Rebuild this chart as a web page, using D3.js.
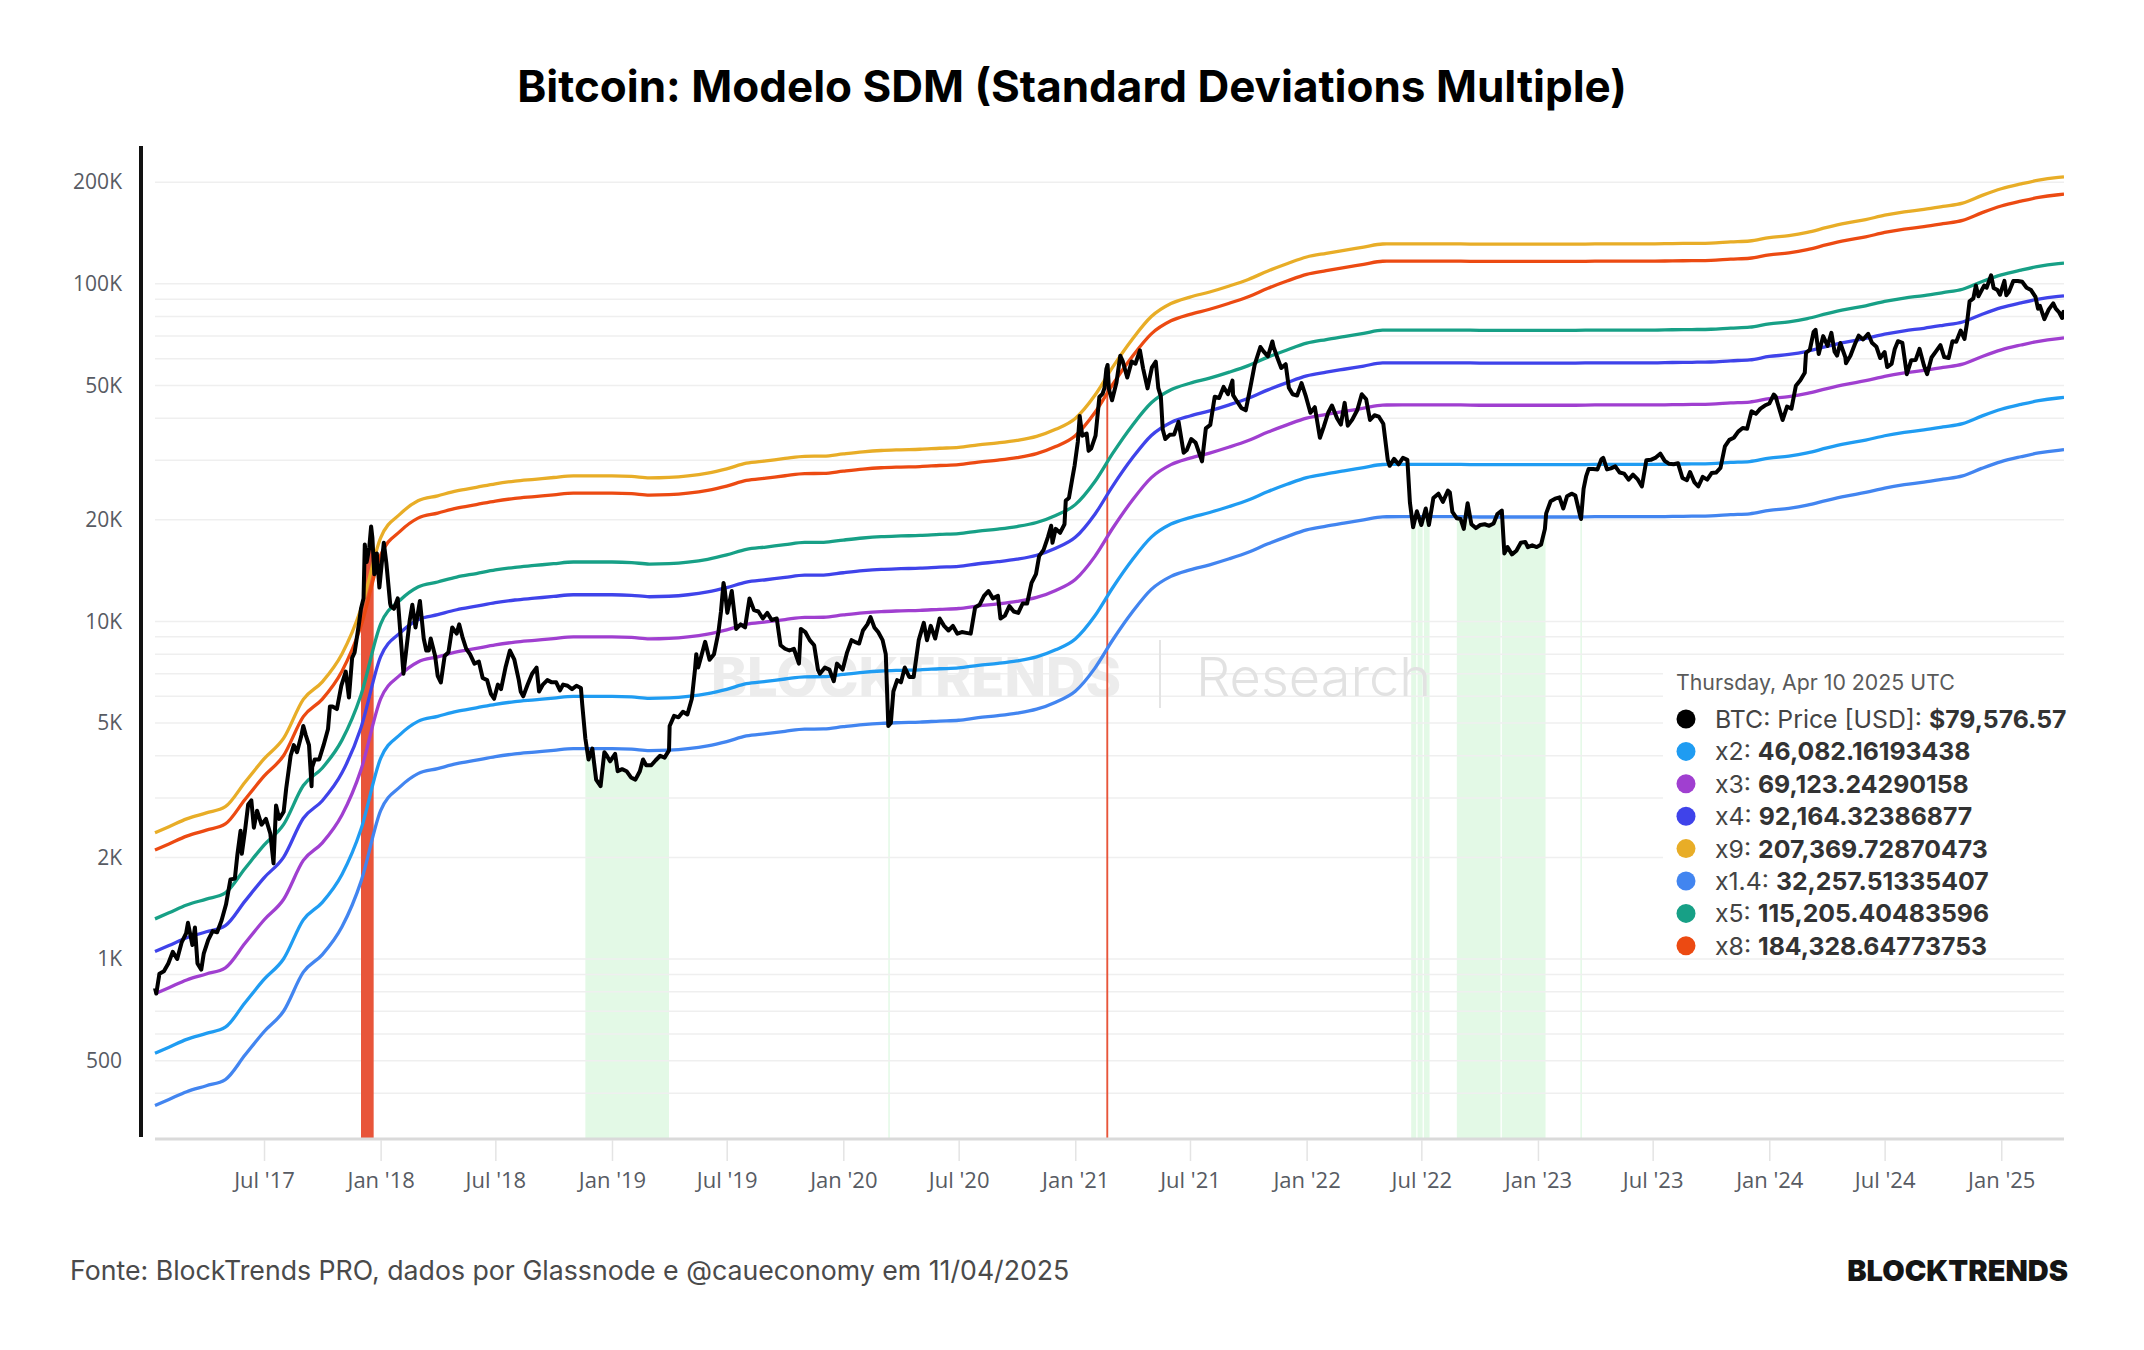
<!DOCTYPE html>
<html>
<head>
<meta charset="utf-8">
<script src="https://cdn.jsdelivr.net/npm/d3@7"></script>
<style>
  html, body { margin: 0; padding: 0; background: #ffffff; }
  #chart { width: 2144px; height: 1350px; }
  text { font-family: Inter, "Open Sans", sans-serif; }
  .axis text { font-family: "Open Sans", sans-serif; fill: #575b63; }
  .grid_line { stroke: #efefef; stroke-width: 1.5; }
  .band_line { fill: none; stroke-width: 3.3; stroke-linejoin: round; }
  .price_line { fill: none; stroke: #000; stroke-width: 4; stroke-linejoin: round; }
</style>
</head>
<body>
<div id="chart"></div>
<script>
// ---- data ----

var titleText = "Bitcoin: Modelo SDM (Standard Deviations Multiple)"
var sourceText = "Fonte: BlockTrends PRO, dados por Glassnode e @caueconomy em 11/04/2025"
var brandText = "BLOCKTRENDS"

var yTickValues = [500, 1000, 2000, 5000, 10000, 20000, 50000, 100000, 200000]
var yGridValues = [400, 500, 600, 700, 800, 900, 1000, 2000, 3000, 4000, 5000, 6000, 7000, 8000, 9000,
  10000, 20000, 30000, 40000, 50000, 60000, 70000, 80000, 90000, 100000, 200000]
var xTickDates = ["2017-07-01", "2018-01-01", "2018-07-01", "2019-01-01", "2019-07-01", "2020-01-01",
  "2020-07-01", "2021-01-01", "2021-07-01", "2022-01-01", "2022-07-01", "2023-01-01", "2023-07-01",
  "2024-01-01", "2024-07-01", "2025-01-01"]

// bands are multiples of one base curve (x1)
var bandNames = ["x1.4", "x2", "x3", "x4", "x5", "x8", "x9"]
var bandMultiples = [1.4, 2, 3, 4, 5, 8, 9]

var bandDates = [
  "2017-01-10", "2017-02-01", "2017-03-01", "2017-04-01", "2017-05-01", "2017-06-01", "2017-07-01", "2017-08-01", "2017-09-01", "2017-10-01", "2017-11-01", "2017-12-01",
  "2018-01-01", "2018-02-01", "2018-03-01", "2018-04-01", "2018-05-01", "2018-06-01", "2018-07-01", "2018-08-01", "2018-09-01", "2018-10-01", "2018-11-01", "2018-12-01",
  "2019-01-01", "2019-02-01", "2019-03-01", "2019-04-01", "2019-05-01", "2019-06-01", "2019-07-01", "2019-08-01", "2019-09-01", "2019-10-01", "2019-11-01", "2019-12-01",
  "2020-01-01", "2020-02-01", "2020-03-01", "2020-04-01", "2020-05-01", "2020-06-01", "2020-07-01", "2020-08-01", "2020-09-01", "2020-10-01", "2020-11-01", "2020-12-01",
  "2021-01-01", "2021-02-01", "2021-03-01", "2021-04-01", "2021-05-01", "2021-06-01", "2021-07-01", "2021-08-01", "2021-09-01", "2021-10-01", "2021-11-01", "2021-12-01",
  "2022-01-01", "2022-02-01", "2022-03-01", "2022-04-01", "2022-05-01", "2022-06-01", "2022-07-01", "2022-08-01", "2022-09-01", "2022-10-01", "2022-11-01", "2022-12-01",
  "2023-01-01", "2023-02-01", "2023-03-01", "2023-04-01", "2023-05-01", "2023-06-01", "2023-07-01", "2023-08-01", "2023-09-01", "2023-10-01", "2023-11-01", "2023-12-01",
  "2024-01-01", "2024-02-01", "2024-03-01", "2024-04-01", "2024-05-01", "2024-06-01", "2024-07-01", "2024-08-01", "2024-09-01", "2024-10-01", "2024-11-01", "2024-12-01",
  "2025-01-01", "2025-02-01", "2025-03-01", "2025-04-01", "2025-04-10"
]
var bandBase = [
  263, 274, 289, 301, 314, 371, 435, 501, 653, 736, 890, 1211,
  1965, 2314, 2529, 2617, 2707, 2773, 2841, 2893, 2929, 2965, 2999, 2999,
  2999, 2988, 2958, 2968, 2999, 3056, 3147, 3270, 3322, 3376, 3427, 3430,
  3484, 3533, 3565, 3582, 3595, 3620, 3640, 3705, 3756, 3821, 3926, 4119,
  4436, 5195, 6292, 7615, 8887, 9712, 10150, 10510, 10950, 11450, 12130, 12740,
  13340, 13680, 13960, 14270, 14580, 14590, 14590, 14590, 14590, 14560, 14560, 14560,
  14560, 14560, 14560, 14590, 14590, 14590, 14590, 14620, 14640, 14670, 14790, 14880,
  15230, 15440, 15780, 16320, 16800, 17220, 17740, 18150, 18460, 18840, 19270, 20280,
  21250, 21960, 22530, 22950, 23041
]

var btcPrice = [
  ["2017-01-10",820],["2017-01-12",790],["2017-01-17",905],["2017-01-24",920],["2017-01-31",970],["2017-02-07",1050],["2017-02-14",1000],["2017-02-21",1120],["2017-02-28",1190],["2017-03-03",1280],["2017-03-10",1100],["2017-03-14",1240],["2017-03-18",970],["2017-03-24",930],["2017-03-28",1040],["2017-04-04",1140],["2017-04-11",1210],["2017-04-18",1200],["2017-04-25",1300],["2017-05-02",1450],["2017-05-09",1720],["2017-05-16",1730],["2017-05-20",2040],["2017-05-25",2400],["2017-05-27",2050],["2017-06-01",2400],["2017-06-06",2870],["2017-06-11",2950],["2017-06-15",2450],["2017-06-20",2750],["2017-06-27",2500],["2017-07-04",2600],["2017-07-11",2350],["2017-07-16",1920],["2017-07-20",2850],["2017-07-25",2600],["2017-08-01",2730],["2017-08-05",3200],["2017-08-12",4000],["2017-08-17",4300],["2017-08-22",4100],["2017-08-29",4600],["2017-09-01",4900],["2017-09-05",4600],["2017-09-10",4300],["2017-09-14",3250],["2017-09-15",3700],["2017-09-19",3900],["2017-09-26",3900],["2017-10-03",4300],["2017-10-10",4800],["2017-10-13",5600],["2017-10-17",5600],["2017-10-24",5500],["2017-10-31",6450],["2017-11-07",7100],["2017-11-12",5950],["2017-11-17",7800],["2017-11-21",8100],["2017-11-28",9900],["2017-12-01",10900],["2017-12-05",11700],["2017-12-07",16900],["2017-12-10",15000],["2017-12-14",16500],["2017-12-17",19100],["2017-12-19",17700],["2017-12-22",13800],["2017-12-26",15900],["2017-12-30",12600],
  ["2018-01-06",17100],["2018-01-10",14900],["2018-01-16",11300],["2018-01-17",11100],["2018-01-22",10900],["2018-01-28",11700],["2018-02-02",8800],["2018-02-06",7000],["2018-02-10",8100],["2018-02-16",10100],["2018-02-20",11200],["2018-02-25",9600],["2018-03-04",11500],["2018-03-10",8900],["2018-03-14",8200],["2018-03-18",8200],["2018-03-21",8900],["2018-03-28",7900],["2018-04-01",6900],["2018-04-06",6600],["2018-04-12",7900],["2018-04-18",8100],["2018-04-24",9600],["2018-05-01",9200],["2018-05-05",9800],["2018-05-10",9000],["2018-05-16",8300],["2018-05-22",8000],["2018-05-29",7500],["2018-06-05",7600],["2018-06-11",6800],["2018-06-18",6700],["2018-06-24",6100],["2018-06-29",5900],["2018-07-05",6500],["2018-07-10",6300],["2018-07-17",7300],["2018-07-24",8200],["2018-07-31",7700],["2018-08-07",6700],["2018-08-10",6200],["2018-08-14",6000],["2018-08-21",6500],["2018-08-28",7000],["2018-09-04",7300],["2018-09-08",6200],["2018-09-14",6500],["2018-09-21",6700],["2018-09-28",6600],["2018-10-05",6600],["2018-10-11",6250],["2018-10-16",6500],["2018-10-23",6450],["2018-10-30",6300],["2018-11-06",6450],["2018-11-13",6350],["2018-11-15",5700],["2018-11-20",4500],["2018-11-25",3900],["2018-12-01",4200],["2018-12-07",3400],["2018-12-14",3250],["2018-12-20",4100],["2018-12-24",4000],["2018-12-29",3850],
  ["2019-01-06",4050],["2019-01-10",3600],["2019-01-17",3650],["2019-01-24",3600],["2019-01-31",3450],["2019-02-07",3400],["2019-02-14",3600],["2019-02-19",3900],["2019-02-24",3750],["2019-03-04",3750],["2019-03-11",3880],["2019-03-18",4000],["2019-03-25",3950],["2019-04-01",4150],["2019-04-02",4900],["2019-04-09",5250],["2019-04-16",5200],["2019-04-23",5400],["2019-04-30",5300],["2019-05-07",5900],["2019-05-12",7200],["2019-05-14",8000],["2019-05-17",7300],["2019-05-22",7900],["2019-05-28",8700],["2019-06-04",7700],["2019-06-11",8000],["2019-06-18",9300],["2019-06-22",10700],["2019-06-26",13000],["2019-06-28",12400],["2019-07-02",10600],["2019-07-09",12300],["2019-07-16",9500],["2019-07-23",9800],["2019-07-30",9600],["2019-08-06",11700],["2019-08-13",10800],["2019-08-20",10700],["2019-08-27",10200],["2019-09-03",10600],["2019-09-10",10100],["2019-09-18",10200],["2019-09-24",8500],["2019-10-01",8300],["2019-10-08",8200],["2019-10-15",8300],["2019-10-23",7500],["2019-10-26",9500],["2019-11-02",9300],["2019-11-09",8800],["2019-11-16",8500],["2019-11-22",7200],["2019-11-25",7000],["2019-12-03",7300],["2019-12-10",7200],["2019-12-17",6650],["2019-12-22",7500],["2019-12-31",7200],
  ["2020-01-07",8100],["2020-01-14",8800],["2020-01-19",8700],["2020-01-26",8600],["2020-02-01",9400],["2020-02-08",9800],["2020-02-13",10300],["2020-02-19",9600],["2020-02-25",9300],["2020-03-03",8800],["2020-03-08",8000],["2020-03-12",4900],["2020-03-16",5000],["2020-03-20",6200],["2020-03-26",6700],["2020-04-01",6600],["2020-04-07",7300],["2020-04-14",6850],["2020-04-21",6850],["2020-04-29",8800],["2020-05-07",9900],["2020-05-12",8800],["2020-05-18",9700],["2020-05-25",8900],["2020-06-01",10200],["2020-06-08",9700],["2020-06-15",9400],["2020-06-22",9700],["2020-06-29",9200],["2020-07-06",9300],["2020-07-13",9250],["2020-07-20",9200],["2020-07-27",11000],["2020-08-03",11200],["2020-08-10",11900],["2020-08-17",12300],["2020-08-24",11700],["2020-09-01",11900],["2020-09-05",10200],["2020-09-12",10400],["2020-09-19",11100],["2020-09-26",10700],["2020-10-03",10600],["2020-10-10",11300],["2020-10-17",11300],["2020-10-24",13000],["2020-10-31",13800],["2020-11-05",15600],["2020-11-12",16300],["2020-11-19",17800],["2020-11-24",19200],["2020-11-26",17100],["2020-12-01",18800],["2020-12-08",18300],["2020-12-15",19400],["2020-12-17",22800],["2020-12-22",23200],["2020-12-27",26300],["2020-12-31",29000],
  ["2021-01-05",34000],["2021-01-08",40600],["2021-01-12",35500],["2021-01-19",36000],["2021-01-22",32000],["2021-01-26",32500],["2021-02-02",35500],["2021-02-08",46200],["2021-02-13",47200],["2021-02-16",49100],["2021-02-19",55900],["2021-02-21",57500],["2021-02-23",48800],["2021-02-28",45200],["2021-03-07",51000],["2021-03-13",61200],["2021-03-17",58900],["2021-03-24",52800],["2021-03-31",58900],["2021-04-06",58000],["2021-04-13",63500],["2021-04-18",56200],["2021-04-25",49000],["2021-05-02",56600],["2021-05-08",58800],["2021-05-12",49100],["2021-05-16",46400],["2021-05-19",37000],["2021-05-23",34700],["2021-05-30",35700],["2021-06-06",35800],["2021-06-13",39000],["2021-06-21",31600],["2021-06-26",32200],["2021-07-03",34700],["2021-07-10",33800],["2021-07-20",29800],["2021-07-26",37300],["2021-08-02",38200],["2021-08-09",46300],["2021-08-16",45900],["2021-08-23",49500],["2021-08-30",47100],["2021-09-06",51700],["2021-09-07",46800],["2021-09-13",44900],["2021-09-20",42900],["2021-09-27",42200],["2021-10-04",49100],["2021-10-11",57500],["2021-10-20",65000],["2021-10-25",63100],["2021-11-01",61000],["2021-11-08",67500],["2021-11-10",64900],["2021-11-16",60300],["2021-11-22",56300],["2021-11-29",57800],["2021-12-04",49200],["2021-12-10",47100],["2021-12-17",46700],["2021-12-24",50800],["2021-12-31",46300],
  ["2022-01-07",41500],["2022-01-14",43100],["2022-01-22",35000],["2022-01-28",37700],["2022-02-04",41500],["2022-02-10",43600],["2022-02-18",40000],["2022-02-24",38300],["2022-03-02",44400],["2022-03-07",38000],["2022-03-14",39600],["2022-03-22",42300],["2022-03-29",47100],["2022-04-05",45500],["2022-04-11",39500],["2022-04-18",40800],["2022-04-25",40400],["2022-05-02",38500],["2022-05-09",30100],["2022-05-12",28900],["2022-05-19",30300],["2022-05-26",29200],["2022-06-02",30500],["2022-06-09",30100],["2022-06-13",22500],["2022-06-18",19000],["2022-06-24",21200],["2022-07-01",19300],["2022-07-08",21600],["2022-07-13",19300],["2022-07-20",23200],["2022-07-28",23900],["2022-08-04",22600],["2022-08-12",24400],["2022-08-15",24100],["2022-08-19",21100],["2022-08-26",20200],["2022-09-01",20100],["2022-09-06",18800],["2022-09-12",22400],["2022-09-18",19400],["2022-09-25",18900],["2022-10-02",19300],["2022-10-09",19400],["2022-10-16",19200],["2022-10-23",19500],["2022-10-29",20800],["2022-11-05",21300],["2022-11-09",15900],["2022-11-14",16600],["2022-11-21",15800],["2022-11-28",16200],["2022-12-05",17100],["2022-12-12",17200],["2022-12-16",16600],["2022-12-23",16800],["2022-12-30",16600],
  ["2023-01-06",16900],["2023-01-12",18800],["2023-01-14",20900],["2023-01-21",22700],["2023-01-28",23100],["2023-02-04",23300],["2023-02-10",21600],["2023-02-16",23500],["2023-02-23",23900],["2023-03-01",23600],["2023-03-09",20400],["2023-03-10",20100],["2023-03-14",24700],["2023-03-18",26900],["2023-03-22",28300],["2023-03-29",28300],["2023-04-05",28200],["2023-04-11",30200],["2023-04-14",30500],["2023-04-20",28200],["2023-04-26",28400],["2023-05-03",28800],["2023-05-10",27600],["2023-05-17",27400],["2023-05-24",26300],["2023-05-31",27200],["2023-06-07",26400],["2023-06-14",25100],["2023-06-21",30000],["2023-06-28",30100],["2023-07-05",30500],["2023-07-13",31400],["2023-07-20",29900],["2023-07-27",29300],["2023-08-03",29200],["2023-08-10",29400],["2023-08-17",26600],["2023-08-24",26200],["2023-08-29",27700],["2023-09-05",25800],["2023-09-11",25100],["2023-09-18",26800],["2023-09-25",26300],["2023-10-02",27500],["2023-10-09",27600],["2023-10-16",28500],["2023-10-23",33000],["2023-10-30",34500],["2023-11-06",35000],["2023-11-13",36500],["2023-11-20",37400],["2023-11-27",37200],["2023-12-04",41900],["2023-12-11",41200],["2023-12-18",42700],["2023-12-25",43600],
  ["2024-01-01",44200],["2024-01-08",47000],["2024-01-11",46400],["2024-01-16",43100],["2024-01-22",39500],["2024-01-29",43300],["2024-02-05",42700],["2024-02-12",49900],["2024-02-19",51800],["2024-02-26",54500],["2024-02-28",62500],["2024-03-05",63800],["2024-03-11",72100],["2024-03-14",73100],["2024-03-19",62000],["2024-03-26",70000],["2024-04-02",65500],["2024-04-08",71600],["2024-04-13",63000],["2024-04-17",61300],["2024-04-22",66800],["2024-04-30",60600],["2024-05-01",58200],["2024-05-08",61200],["2024-05-15",66200],["2024-05-21",70200],["2024-05-28",68400],["2024-06-05",71100],["2024-06-11",66900],["2024-06-18",65100],["2024-06-24",60300],["2024-07-01",62800],["2024-07-05",56700],["2024-07-12",57900],["2024-07-17",64100],["2024-07-22",67600],["2024-07-29",66800],["2024-08-05",54000],["2024-08-12",59400],["2024-08-19",59500],["2024-08-25",64200],["2024-09-01",57300],["2024-09-06",54000],["2024-09-13",60500],["2024-09-20",63100],["2024-09-27",65800],["2024-10-03",60700],["2024-10-10",60300],["2024-10-16",67600],["2024-10-22",67400],["2024-10-29",72700],["2024-11-04",68700],["2024-11-08",76600],["2024-11-12",88700],["2024-11-18",90500],["2024-11-22",98900],["2024-11-26",91900],["2024-12-05",98800],["2024-12-09",97400],["2024-12-16",106000],["2024-12-20",97200],["2024-12-26",95800],["2024-12-30",92800],
  ["2025-01-06",102000],["2025-01-09",92500],["2025-01-13",94500],["2025-01-20",102000],["2025-01-27",102000],["2025-02-03",101400],["2025-02-10",97400],["2025-02-17",95800],["2025-02-24",91500],["2025-02-28",84400],["2025-03-03",86100],["2025-03-10",78600],["2025-03-17",84000],["2025-03-24",87500],["2025-03-28",84400],["2025-04-02",82500],["2025-04-07",79200],["2025-04-09",82600],["2025-04-10",79576.57]
]

// signal periods (shaded under the price)
var redRanges = [["2017-12-01", "2017-12-21"], ["2021-02-19", "2021-02-22"]]
var greenRanges = [
  ["2018-11-20", "2019-04-01"], ["2020-03-12", "2020-03-13"],
  ["2022-06-15", "2022-06-23"], ["2022-06-25", "2022-07-03"], ["2022-07-05", "2022-07-14"],
  ["2022-08-26", "2022-11-03"], ["2022-11-05", "2023-01-13"], ["2023-03-09", "2023-03-11"]
]

var legendDate = "Thursday, Apr 10 2025 UTC"
var legendNames = ["BTC: Price [USD]", "x2", "x3", "x4", "x9", "x1.4", "x5", "x8"]
var legendValues = ["$79,576.57", "46,082.16193438", "69,123.24290158", "92,164.32386877",
  "207,369.72870473", "32,257.51335407", "115,205.40483596", "184,328.64773753"]

// ---- styles ----
var seriesColors = {
  "BTC: Price [USD]": "#000000",
  "x1.4": "#4285f0",
  "x2": "#1f9cf2",
  "x3": "#a03fd0",
  "x4": "#3f43ea",
  "x5": "#17a086",
  "x8": "#ec4a12",
  "x9": "#e8ad27"
}

var parseDate = d3.utcParse("%Y-%m-%d")

var SdmChart = function(domContainer) {
  var _self = this

  _self.container = d3.select(domContainer)
  _self.width = 2144
  _self.height = 1350

  _self.dims = {
    "left": 155,
    "right": 2064,
    "top": 146,
    "bottom": 1139,
    "axis_x": 141
  }

  _self.svg = _self.container.append("svg")
    .attr("width", _self.width)
    .attr("height", _self.height)

  _self.x = d3.scaleUtc()
    .domain([parseDate("2017-01-10"), parseDate("2025-04-10")])
    .range([_self.dims.left, _self.dims.right])
  _self.y = d3.scaleLog()
    .domain([293, 256000])
    .range([_self.dims.bottom, _self.dims.top])

  _self.price = btcPrice.map(function(d) { return { "date": parseDate(d[0]), "value": d[1] } })
  _self.base = bandDates.map(function(d, i) { return { "date": parseDate(d), "value": bandBase[i] } })

  _self.drawDefinitions()
  _self.drawSignals(greenRanges, "green_clip", "#e3f9e6")
  _self.drawGrid()
  _self.drawWatermark()
  _self.drawSignals(redRanges, "red_clip", "#e8553a")
  _self.drawBands()
  _self.drawPrice()
  _self.drawAxes()
  _self.drawLegend()
  _self.drawTexts()
}

SdmChart.prototype.drawDefinitions = function drawDefinitions() {
  var _self = this

  _self.defs = _self.svg.append("defs")
  _self.defs.append("clipPath")
    .attr("id", "plot_clip")
    .append("rect")
      .attr("x", _self.dims.axis_x)
      .attr("y", _self.dims.top)
      .attr("width", _self.dims.right - _self.dims.axis_x)
      .attr("height", _self.dims.bottom - _self.dims.top)
}

SdmChart.prototype.drawSignals = function drawSignals(ranges, clipId, colour) {
  var _self = this

  var clip = _self.defs.append("clipPath").attr("id", clipId)
  ranges.forEach(function(r) {
    var x0 = _self.x(parseDate(r[0])),
        x1 = _self.x(parseDate(r[1]))
    clip.append("rect")
      .attr("x", x0)
      .attr("y", _self.dims.top)
      .attr("width", Math.max(1.5, x1 - x0))
      .attr("height", _self.dims.bottom - _self.dims.top)
  })

  var area = d3.area()
    .x(function(d) { return _self.x(d.date) })
    .y0(_self.dims.bottom)
    .y1(function(d) { return _self.y(d.value) })

  _self.svg.append("path")
    .datum(_self.price)
    .attr("clip-path", "url(#" + clipId + ")")
    .attr("fill", colour)
    .attr("d", area)
}

SdmChart.prototype.drawGrid = function drawGrid() {
  var _self = this

  _self.svg.append("g")
    .attr("class", "grid")
    .selectAll("line")
    .data(yGridValues)
    .join("line")
      .attr("class", "grid_line")
      .attr("x1", _self.dims.left)
      .attr("x2", _self.dims.right)
      .attr("y1", function(d) { return _self.y(d) })
      .attr("y2", function(d) { return _self.y(d) })
}

SdmChart.prototype.drawWatermark = function drawWatermark() {
  var _self = this

  var g = _self.svg.append("g").attr("class", "watermark")
  g.append("text")
    .attr("x", 711)
    .attr("y", 696)
    .attr("font-size", 53)
    .attr("font-weight", 800)
    .attr("fill", "#ececec")
    .attr("textLength", 410)
    .attr("lengthAdjust", "spacingAndGlyphs")
    .text("BLOCKTRENDS")
  g.append("line")
    .attr("x1", 1160).attr("x2", 1160)
    .attr("y1", 640).attr("y2", 708)
    .attr("stroke", "#e4e4e4")
    .attr("stroke-width", 2)
  g.append("text")
    .attr("x", 1196)
    .attr("y", 696)
    .attr("font-size", 53)
    .attr("font-weight", 300)
    .attr("fill", "#e2e2e2")
    .attr("textLength", 235)
    .attr("lengthAdjust", "spacingAndGlyphs")
    .text("Research")
}

SdmChart.prototype.drawBands = function drawBands() {
  var _self = this

  var g = _self.svg.append("g")
    .attr("class", "bands")
    .attr("clip-path", "url(#plot_clip)")

  bandNames.forEach(function(name, i) {
    var k = bandMultiples[i]
    var line = d3.line()
      .curve(d3.curveMonotoneX)
      .x(function(d) { return _self.x(d.date) })
      .y(function(d) { return _self.y(d.value * k) })
    g.append("path")
      .datum(_self.base)
      .attr("class", "band_line")
      .attr("stroke", seriesColors[name])
      .attr("d", line)
  })
}

SdmChart.prototype.drawPrice = function drawPrice() {
  var _self = this

  var line = d3.line()
    .x(function(d) { return _self.x(d.date) })
    .y(function(d) { return _self.y(d.value) })

  _self.svg.append("path")
    .datum(_self.price)
    .attr("class", "price_line")
    .attr("clip-path", "url(#plot_clip)")
    .attr("d", line)
}

SdmChart.prototype.drawAxes = function drawAxes() {
  var _self = this

  // bottom baseline
  _self.svg.append("line")
    .attr("x1", _self.dims.left)
    .attr("x2", _self.dims.right)
    .attr("y1", _self.dims.bottom)
    .attr("y2", _self.dims.bottom)
    .attr("stroke", "#dadada")
    .attr("stroke-width", 3)

  var xAxis = d3.axisBottom(_self.x)
    .tickValues(xTickDates.map(parseDate))
    .tickFormat(d3.utcFormat("%b '%y"))
    .tickSize(21)
    .tickPadding(11)

  var gx = _self.svg.append("g")
    .attr("class", "axis x_axis")
    .attr("transform", "translate(0," + (_self.dims.bottom + 1) + ")")
    .call(xAxis)
  gx.select(".domain").remove()
  gx.selectAll(".tick line").attr("stroke", "#e4e4e4").attr("stroke-width", 1.5)
  gx.selectAll(".tick text").attr("font-size", 22)

  var yAxis = d3.axisLeft(_self.y)
    .tickValues(yTickValues)
    .tickFormat(function(d) { return d >= 1000 ? (d / 1000) + "K" : d })
    .tickSize(0)
    .tickSizeOuter(0)
    .tickPadding(19)

  var gy = _self.svg.append("g")
    .attr("class", "axis y_axis")
    .attr("transform", "translate(" + _self.dims.axis_x + ",0)")
    .call(yAxis)
  gy.select(".domain")
    .attr("stroke", "#111")
    .attr("stroke-width", 4)
    .attr("d", "M0," + (_self.dims.bottom - 2) + "V" + _self.dims.top)
  gy.selectAll(".tick text").attr("font-size", 21)
}

SdmChart.prototype.drawLegend = function drawLegend() {
  var _self = this

  var g = _self.svg.append("g").attr("class", "legend")
  g.append("rect")
    .attr("x", 1663)
    .attr("y", 662)
    .attr("width", 420)
    .attr("height", 291)
    .attr("fill", "#fff")

  g.append("text")
    .attr("x", 1676)
    .attr("y", 690)
    .attr("font-size", 21.3)
    .attr("fill", "#5a5a5a")
    .text(legendDate)

  var rows = g.selectAll("g.row")
    .data(legendNames)
    .join("g")
      .attr("class", "row")
      .attr("transform", function(d, i) { return "translate(0," + (719 + i * 32.4) + ")" })

  rows.append("circle")
    .attr("cx", 1686)
    .attr("cy", 0)
    .attr("r", 9.5)
    .attr("fill", function(d) { return seriesColors[d] })

  var label = rows.append("text")
    .attr("x", 1715)
    .attr("y", 9)
    .attr("font-size", 24.8)
  label.append("tspan")
    .attr("fill", "#444")
    .text(function(d) { return d + ": " })
  label.append("tspan")
    .attr("fill", "#333")
    .attr("font-weight", 700)
    .text(function(d, i) { return legendValues[i] })
}

SdmChart.prototype.drawTexts = function drawTexts() {
  var _self = this

  _self.svg.append("text")
    .attr("x", _self.width / 2)
    .attr("y", 102)
    .attr("text-anchor", "middle")
    .attr("font-size", 44)
    .attr("font-weight", 700)
    .attr("fill", "#000")
    .text(titleText)

  _self.svg.append("text")
    .attr("x", 70)
    .attr("y", 1280)
    .attr("font-size", 26.7)
    .attr("fill", "#4a4a4a")
    .text(sourceText)

  _self.svg.append("text")
    .attr("x", 2068)
    .attr("y", 1281)
    .attr("text-anchor", "end")
    .attr("font-size", 29)
    .attr("font-weight", 900)
    .attr("fill", "#151515")
    .text(brandText)
}

new SdmChart(document.getElementById("chart"))
</script>
</body>
</html>
